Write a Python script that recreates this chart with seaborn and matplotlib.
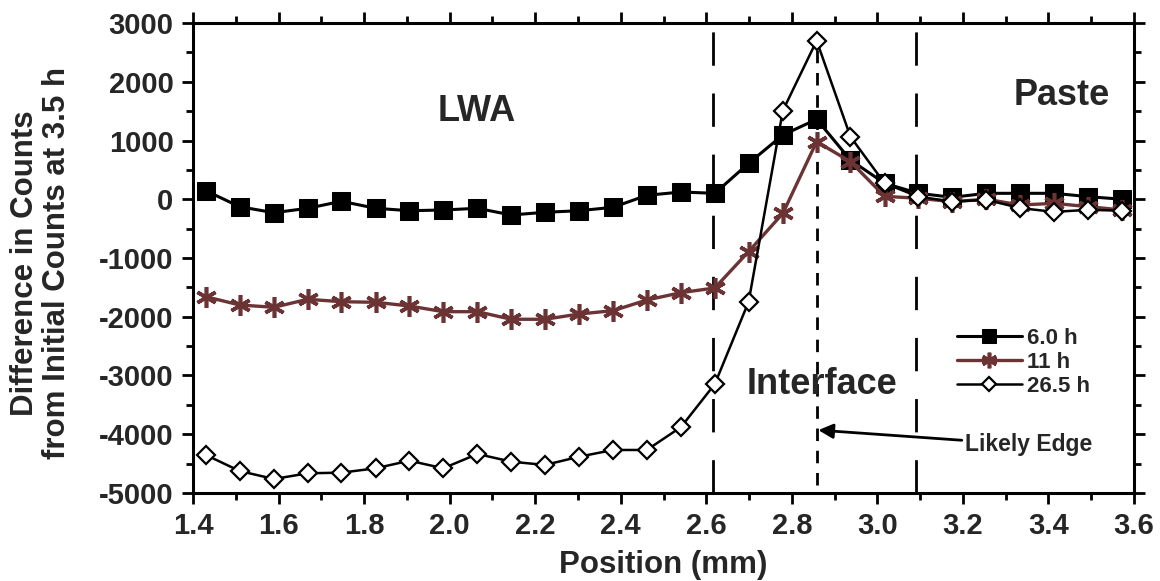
import matplotlib
matplotlib.use("Agg")
import matplotlib.pyplot as plt
import seaborn as sns
import pandas as pd
from matplotlib.ticker import MultipleLocator

# ---- data ----
position_mm = [1.430, 1.509, 1.589, 1.668, 1.747, 1.827, 1.906, 1.985, 2.065, 2.144,
               2.223, 2.303, 2.382, 2.461, 2.541, 2.620, 2.699, 2.779, 2.858, 2.937,
               3.017, 3.096, 3.175, 3.255, 3.334, 3.413, 3.493, 3.572]
diff_6h = [145, -127, -229, -154, -35, -154, -195, -183, -154, -268,
           -222, -195, -137, 67, 123, 101, 612, 1094, 1361, 668,
           271, 101, 33, 101, 101, 101, 44, 0]
diff_11h = [-1659, -1800, -1839, -1703, -1744, -1754, -1817, -1914, -1914, -2043,
            -2043, -1953, -1897, -1715, -1590, -1510, -890, -240, 980, 640,
            50, 16, -41, 0, -98, -70, -126, -183]
diff_26h = [-4353, -4626, -4762, -4665, -4654, -4580, -4450, -4580, -4336, -4467,
            -4523, -4382, -4268, -4268, -3877, -3145, -1744, 1508, 2699, 1065,
            270, 44, -40, -10, -150, -215, -180, -195]
series_labels = ["6.0 h", "11 h", "26.5 h"]
boundary_lines = [2.615, 3.090]
edge_line = 2.858
region_labels = ["LWA", "Paste", "Interface"]
x_ticks = [1.4, 1.6, 1.8, 2.0, 2.2, 2.4, 2.6, 2.8, 3.0, 3.2, 3.4, 3.6]
y_ticks = [-5000, -4000, -3000, -2000, -1000, 0, 1000, 2000, 3000]

sns.set_style("ticks")
plt.rcParams['font.family'] = ['Liberation Sans', 'DejaVu Sans']
plt.rcParams['font.weight'] = 'bold'
plt.rcParams['axes.labelweight'] = 'bold'

fig = plt.figure(figsize=(11.6, 5.81), dpi=100)
ax = fig.add_axes([0.1664, 0.1515, 0.9776 - 0.1664, 0.9604 - 0.1515])

df = pd.DataFrame({"x": position_mm, "a": diff_6h, "b": diff_11h, "c": diff_26h})

brown = "#6b3333"
sns.lineplot(data=df, x="x", y="a", ax=ax, color="black", lw=2.2, marker="s",
             markersize=13.5, markeredgecolor="black", markerfacecolor="black",
             label=series_labels[0], zorder=4, sort=False)
sns.lineplot(data=df, x="x", y="b", ax=ax, color=brown, lw=2.4, marker=(6, 2, 0),
             markersize=15, markeredgewidth=2.6, markeredgecolor=brown,
             label=series_labels[1], zorder=5, sort=False)
sns.lineplot(data=df, x="x", y="c", ax=ax, color="black", lw=1.8, marker="D",
             markersize=9.5, markeredgewidth=1.6, markeredgecolor="black",
             markerfacecolor="white", label=series_labels[2], zorder=6, sort=False)

for xv in boundary_lines:
    ax.axvline(xv, color="black", lw=2, dashes=(12, 10), zorder=2)
ax.axvline(edge_line, color="black", lw=2, dashes=(4.5, 3.5), ymax=(2700 + 5000) / 8000,
           ymin=(-4870 + 5000) / 8000, zorder=2)

ax.set_xlim(1.4, 3.6)
ax.set_ylim(-5000, 3000)
ax.set_xticks(x_ticks)
ax.set_xticklabels([f"{v:.1f}" for v in x_ticks])
ax.set_yticks(y_ticks)
ax.set_yticklabels([str(v) for v in y_ticks])
ax.xaxis.set_minor_locator(MultipleLocator(0.1))
ax.yaxis.set_minor_locator(MultipleLocator(500))
ax.tick_params(which="both", direction="out", top=True, right=True, width=2,
               labelsize=21, color="black", pad=6)
ax.tick_params(which="major", length=8)
ax.tick_params(which="minor", length=5)
for lab in ax.get_xticklabels() + ax.get_yticklabels():
    lab.set_fontweight("bold")
for s in ax.spines.values():
    s.set_linewidth(2.2)
    s.set_color("black")

ax.set_xlabel("Position (mm)", fontsize=22.5, fontweight="bold")
ax.xaxis.set_label_coords(0.5, -0.122)
ax.set_ylabel("Difference in Counts\nfrom Initial Counts at 3.5 h", fontsize=22.5,
              fontweight="bold", linespacing=1.06)
ax.yaxis.set_label_coords(-0.129, 0.49)

ax.text(2.063, 1490, region_labels[0], fontsize=26, fontweight="bold",
        ha="center", va="center")
ax.text(3.43, 1760, region_labels[1], fontsize=26, fontweight="bold",
        ha="center", va="center")
ax.text(2.87, -3150, region_labels[2], fontsize=26, fontweight="bold",
        ha="center", va="center")
ax.annotate("Likely Edge", xy=(2.862, -3930), xytext=(3.205, -4183),
            fontsize=16.5, fontweight="bold", ha="left", va="center",
            arrowprops=dict(arrowstyle="-|>", color="black", lw=2,
                            mutation_scale=22, shrinkA=0, shrinkB=0))

leg = ax.legend(loc="upper left", bbox_to_anchor=(0.812, 0.352), frameon=False,
                fontsize=16, handlelength=2.9, handletextpad=0.25,
                labelspacing=0.15, borderpad=0, borderaxespad=0)
for t in leg.get_texts():
    t.set_fontweight("bold")
for h in leg.get_lines():
    h.set_markersize(h.get_markersize() * 0.75)

fig.savefig("out.png", dpi=100)
